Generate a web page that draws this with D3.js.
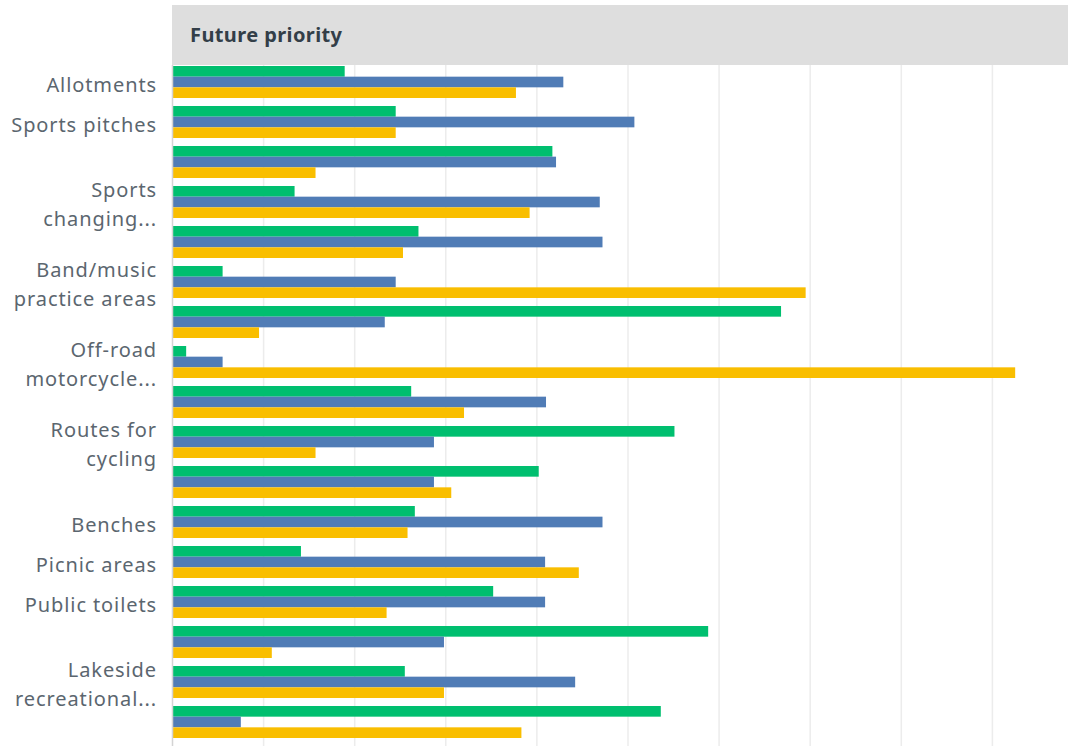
<!DOCTYPE html>
<html>
<head>
<meta charset="utf-8">
<script src="https://cdn.jsdelivr.net/npm/d3@7"></script>
<style>
  html, body { margin: 0; padding: 0; background: #fff; }
  svg { display: block; }
</style>
</head>
<body>
<svg id="chart" width="1068" height="746"></svg>
<script>
// ---- data ----
const title = "Future priority";
const categories = [
  "Allotments", "Sports pitches", "", "Sports\nchanging...", "",
  "Band/music\npractice areas", "", "Off-road\nmotorcycle...", "",
  "Routes for\ncycling", "", "Benches", "Picnic areas", "Public toilets", "",
  "Lakeside\nrecreational...", ""
];
const seriesNames = ["Series 1", "Series 2", "Series 3"];
const seriesColors = ["#00BF6F", "#507CB6", "#F9BE00"];
const series1 = [18.9, 24.5, 41.7, 13.4, 27.0, 5.5, 66.8, 1.5, 26.2, 55.1, 40.2, 26.6, 14.1, 35.2, 58.8, 25.5, 53.6];
const series2 = [42.9, 50.7, 42.1, 46.9, 47.2, 24.5, 23.3, 5.5, 41.0, 28.7, 28.7, 47.2, 40.9, 40.9, 29.8, 44.2, 7.5];
const series3 = [37.7, 24.5, 15.7, 39.2, 25.3, 69.5, 9.5, 92.5, 32.0, 15.7, 30.6, 25.8, 44.6, 23.5, 10.9, 29.8, 38.3];
const xTicks = [0, 10, 20, 30, 40, 50, 60, 70, 80, 90, 100];

// ---- layout ----
const svg = d3.select("#chart");
const W = 1068, H = 746;
const plotLeft = 172.5, plotRight = 1083.5;
const headerTop = 5, headerBottom = 65;
const groupTop = 66, step = 40;

const allSeries = [series1, series2, series3];
const idx = d3.range(categories.length);

const x = d3.scaleLinear().domain([0, 100]).range([plotLeft, plotRight]);
const y = d3.scaleBand().domain(idx)
  .range([groupTop, groupTop + step * categories.length - step * 0.2])
  .paddingInner(0.2).paddingOuter(0);
const ySub = d3.scaleBand().domain(d3.range(seriesNames.length)).range([0, y.bandwidth()]);

// header band
svg.append("rect")
  .attr("x", plotLeft - 0.5).attr("y", headerTop)
  .attr("width", W - plotLeft + 0.5).attr("height", headerBottom - headerTop)
  .attr("fill", "#dedede");
svg.append("text")
  .attr("x", 190).attr("y", 41.5)
  .attr("font-family", "'Noto Sans', sans-serif")
  .attr("font-weight", "bold")
  .attr("font-size", 20)
  .attr("letter-spacing", 0.4)
  .attr("fill", "#333e48")
  .text(title);

// gridlines
svg.append("g").selectAll("line")
  .data(xTicks.slice(1))
  .join("line")
  .attr("x1", d => x(d)).attr("x2", d => x(d))
  .attr("y1", headerBottom).attr("y2", H)
  .attr("stroke", "#ececec").attr("stroke-width", 1.5);

// bars
const groups = svg.append("g").selectAll("g")
  .data(idx)
  .join("g")
  .attr("transform", i => `translate(0,${y(i)})`);

groups.selectAll("rect")
  .data(i => allSeries.map((s, k) => ({ k, v: s[i] })))
  .join("rect")
  .attr("x", x(0))
  .attr("y", d => ySub(d.k))
  .attr("width", d => x(d.v) - x(0))
  .attr("height", ySub.bandwidth())
  .attr("fill", d => seriesColors[d.k]);

// axis line
svg.append("line")
  .attr("x1", plotLeft).attr("x2", plotLeft)
  .attr("y1", headerBottom).attr("y2", H)
  .attr("stroke", "#d4d4d4").attr("stroke-width", 1.5);

// category labels
const lineH = 29.5;
const labels = svg.append("g")
  .attr("font-family", "'Noto Sans', sans-serif")
  .attr("font-size", 20)
  .attr("letter-spacing", 0.9)
  .attr("fill", "#5b666f")
  .attr("text-anchor", "end");

idx.forEach(i => {
  const lines = categories[i] ? categories[i].split("\n") : [];
  if (!lines.length) return;
  const cy = y(i) + y.bandwidth() / 2;
  const t = labels.append("text").attr("x", 157);
  lines.forEach((ln, j) => {
    t.append("tspan")
      .attr("x", 157)
      .attr("y", cy + 9.5 + (j - (lines.length - 1) / 2) * lineH)
      .text(ln);
  });
});
</script>
</body>
</html>
